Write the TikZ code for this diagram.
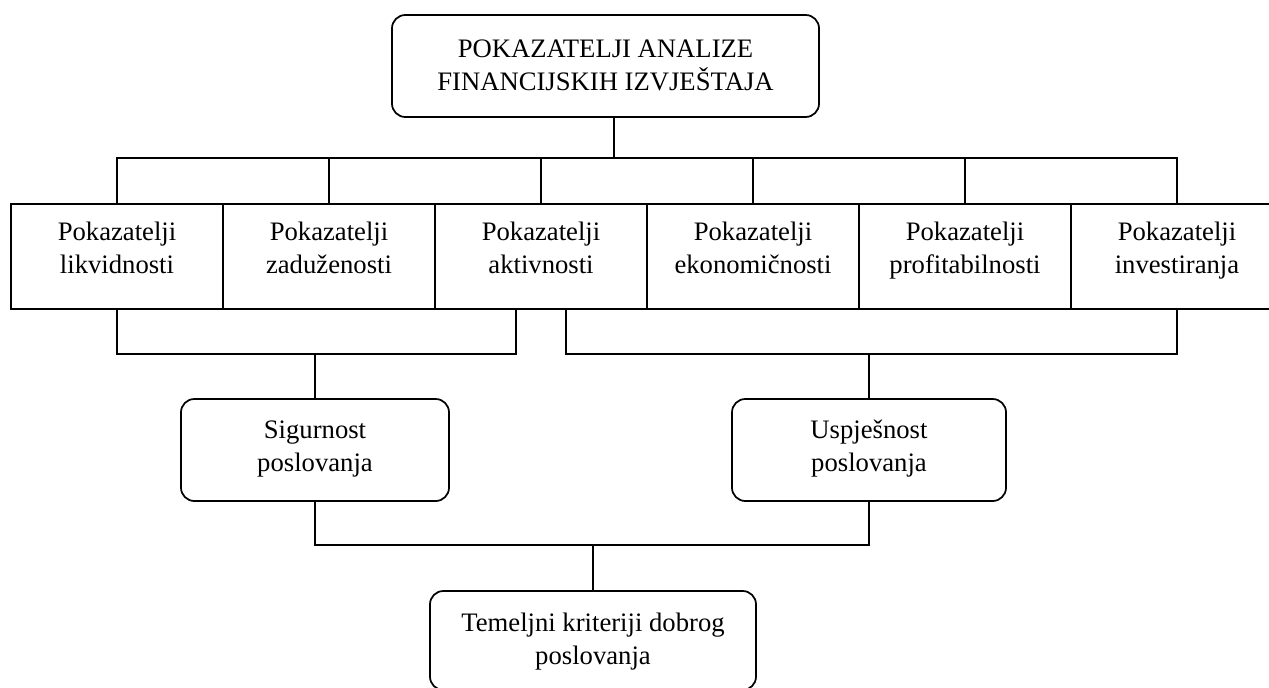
\documentclass[tikz,border=0pt]{standalone}
\usepackage{fontspec}
\setmainfont{Liberation Serif}
\usetikzlibrary{calc}
% two lines of text, #1 = height of the strut above
\newcommand{\dvaretka}[3]{\rule{0pt}{#1}#2\\#3\rule[-19pt]{0pt}{19pt}}
\tikzset{
  pokbox/.style={draw, line width=1.3pt, align=center, minimum width=159pt, minimum height=78.75pt, inner sep=0pt},
  roundbox/.style={draw, line width=1.3pt, rounded corners=10pt, align=center, minimum height=76.5pt, inner sep=0pt},
  veza/.style={line width=1.3pt}
}
\begin{document}
\begin{tikzpicture}[x=0.75pt,y=-0.75pt,font=\fontsize{20}{24.75}\selectfont]
\useasboundingbox (0,0) rectangle (1269,687);

\node[roundbox, minimum width=320.25pt] (vrh) at (605.5,66) {\dvaretka{30.25pt}{POKAZATELJI ANALIZE}{FINANCIJSKIH IZVJEŠTAJA}};

\node[pokbox] (lik) at (117,256.5) {\dvaretka{19pt}{Pokazatelji}{likvidnosti}};
\node[pokbox] (zad) at (329,256.5) {\dvaretka{19pt}{Pokazatelji}{zaduženosti}};
\node[pokbox] (akt) at (541,256.5) {\dvaretka{19pt}{Pokazatelji}{aktivnosti}};
\node[pokbox] (eko) at (753,256.5) {\dvaretka{19pt}{Pokazatelji}{ekonomičnosti}};
\node[pokbox] (pro) at (965,256.5) {\dvaretka{19pt}{Pokazatelji}{profitabilnosti}};
\node[pokbox] (inv) at (1177,256.5) {\dvaretka{19pt}{Pokazatelji}{investiranja}};

\node[roundbox, minimum width=201pt] (sig) at (315,450) {\dvaretka{25.75pt}{Sigurnost}{poslovanja}};
\node[roundbox, minimum width=205.5pt] (usp) at (869,450) {\dvaretka{25.75pt}{Uspješnost}{poslovanja}};

\node[roundbox, minimum width=244.5pt, minimum height=74.25pt] (tem) at (593,640.5) {\dvaretka{30.25pt}{Temeljni kriteriji dobrog}{poslovanja}};

\coordinate (sabGore) at (614,158);
\coordinate (sabSred) at (0,354);
\coordinate (sabDolje) at (0,545);

\draw[veza] (vrh.south -| sabGore) -- (sabGore);
\draw[veza] (lik.north) -- (lik.north |- sabGore) -- (inv.north |- sabGore) -- (inv.north);
\draw[veza] (zad.north) -- (zad.north |- sabGore);
\draw[veza] (akt.north) -- (akt.north |- sabGore);
\draw[veza] (eko.north) -- (eko.north |- sabGore);
\draw[veza] (pro.north) -- (pro.north |- sabGore);

\draw[veza] (lik.south) -- (lik.south |- sabSred) -| ($(akt.south)+(-25,0)$);
\draw[veza] ($(akt.south)+(25,0)$) |- (inv.south |- sabSred) -- (inv.south);
\draw[veza] (sig.north) -- (sig.north |- sabSred);
\draw[veza] (usp.north) -- (usp.north |- sabSred);

\draw[veza] (sig.south) |- (usp.south |- sabDolje) -- (usp.south);
\draw[veza] (tem.north) -- (tem.north |- sabDolje);
\end{tikzpicture}
\end{document}
